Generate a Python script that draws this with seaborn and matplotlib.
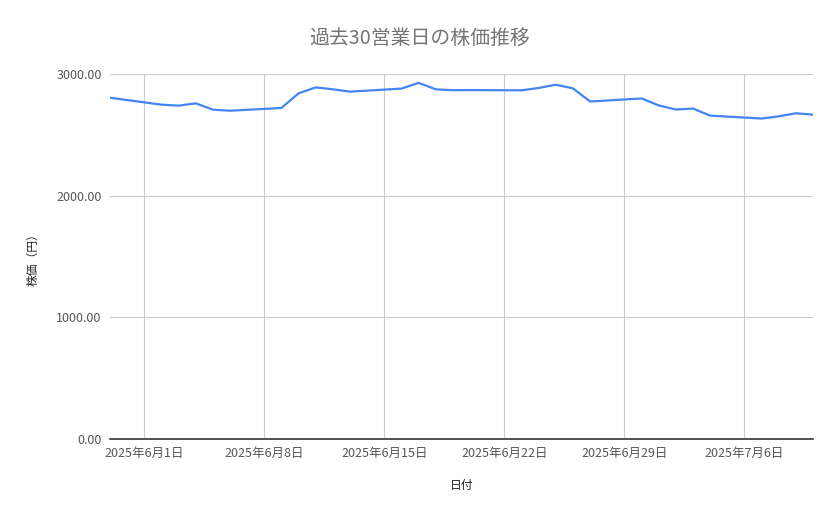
import matplotlib
matplotlib.use("Agg")
import matplotlib.pyplot as plt
import matplotlib.dates as mdates
from matplotlib.ticker import FuncFormatter, FixedLocator
import seaborn as sns
import pandas as pd
import numpy as np

dates = [
    "2025-05-30",
    "2025-06-02", "2025-06-03", "2025-06-04", "2025-06-05", "2025-06-06",
    "2025-06-09", "2025-06-10", "2025-06-11", "2025-06-12", "2025-06-13",
    "2025-06-16", "2025-06-17", "2025-06-18", "2025-06-19", "2025-06-20",
    "2025-06-23", "2025-06-24", "2025-06-25", "2025-06-26", "2025-06-27",
    "2025-06-30", "2025-07-01", "2025-07-02", "2025-07-03", "2025-07-04",
    "2025-07-07", "2025-07-08", "2025-07-09", "2025-07-10",
]
prices = [
    2805,
    2748, 2740, 2759, 2707, 2698,
    2721, 2841, 2890, 2874, 2855,
    2880, 2927, 2874, 2867, 2868,
    2866, 2885, 2912, 2882, 2774,
    2799, 2742, 2708, 2716, 2658,
    2634, 2652, 2677, 2666,
]
tick_dates = ["2025-06-01", "2025-06-08", "2025-06-15", "2025-06-22", "2025-06-29", "2025-07-06"]
y_ticks = [0, 1000, 2000, 3000]

title = "過去30営業日の株価推移"
xlabel = "日付"
ylabel = "株価（円）"

df = pd.DataFrame({"日付": pd.to_datetime(dates), "株価": prices})

sns.set_theme(style="white")
plt.rcParams["font.family"] = ["Noto Sans CJK JP", "DejaVu Sans"]

fig = plt.figure(figsize=(8.39, 5.19), dpi=100)
ax = fig.add_axes([110 / 839, 1 - 439 / 519, (813 - 110) / 839, (439 - 74) / 519])

sns.lineplot(data=df, x="日付", y="株価", ax=ax, color="#4285F4", linewidth=1.6)

ax.set_xlim(pd.Timestamp("2025-05-30"), pd.Timestamp("2025-07-10"))
ax.set_ylim(0, 3000)

xt = [mdates.date2num(pd.Timestamp(d)) for d in tick_dates]
ax.xaxis.set_major_locator(FixedLocator(xt))

def fmt_date(v, pos=None):
    d = mdates.num2date(v)
    return f"{d.year}年{d.month}月{d.day}日"

ax.xaxis.set_major_formatter(FuncFormatter(fmt_date))
ax.set_yticks(y_ticks)
ax.yaxis.set_major_formatter(FuncFormatter(lambda v, p: f"{v:.2f}"))

ax.grid(True, color="#cccccc", linewidth=0.8)
ax.set_axisbelow(True)
for s in ["top", "right", "left"]:
    ax.spines[s].set_visible(False)
ax.spines["bottom"].set_color("#333333")
ax.spines["bottom"].set_linewidth(1.2)

ax.tick_params(axis="both", length=0, labelsize=9, colors="#555555")
ax.tick_params(axis="x", pad=5.5)
ax.tick_params(axis="y", pad=6)

ax.set_xlabel(xlabel, fontsize=8.5, color="#222222")
ax.set_ylabel(ylabel, fontsize=8.5, color="#222222")
ax.xaxis.set_label_coords((461.5 - 110) / 703, (439 - 486) / 365)
ax.xaxis.label.set_va("center")
ax.yaxis.set_label_coords((33 - 110) / 703, 0.5)
ax.yaxis.label.set_va("center")

fig.text(419.5 / 839, 1 - 38 / 519, title, ha="center", va="center", fontsize=14.3, color="#757575")

fig.savefig("out.png", dpi=100, facecolor="white")
